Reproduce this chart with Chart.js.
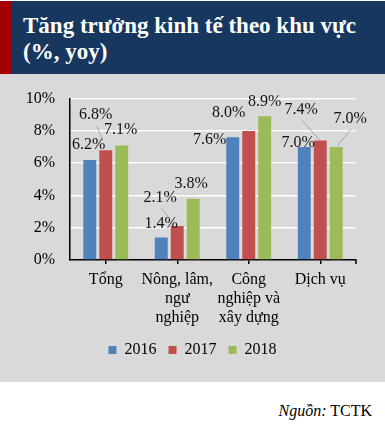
<!DOCTYPE html>
<html>
<head>
<meta charset="utf-8">
<script src="https://cdn.jsdelivr.net/npm/chart.js@4.4.0/dist/chart.umd.min.js"></script>
<style>
body{margin:0;width:385px;height:425px;background:#fff;position:relative;overflow:hidden;font-family:"Liberation Serif",serif}
#head{position:absolute;left:0;top:1px;width:385px;height:73px;background:#17375e}
#strip{position:absolute;left:0;top:0;width:12px;height:73px;background:#a50000}
#title{position:absolute;left:23px;top:12px;color:#fff;font-weight:bold;font-size:23px;line-height:26px}
#panel{position:absolute;left:0;top:74px;width:385px;height:308px;background:#d9d9d9}
#src{position:absolute;right:13px;top:402px;font-size:16px;color:#000}
</style>
</head>
<body>
<div id="head"><div id="strip"></div><div id="title">Tăng trưởng kinh tế theo khu vực<br>(%, yoy)</div></div>
<div id="panel"><canvas id="bars" width="385" height="308"></canvas></div>
<div id="src"><i>Nguồn:</i> TCTK</div>
<script>
var categories=[["Tổng"],["Nông, lâm,","ngư","nghiệp"],["Công","nghiệp và","xây dựng"],["Dịch vụ"]];
var years=["2016","2017","2018"];
var values2016=[6.2,1.4,7.6,7.0];
var values2017=[6.8,2.1,8.0,7.4];
var values2018=[7.1,3.8,8.9,7.0];
var yTicks=[0,2,4,6,8,10];
var colors=["#4f81bd","#c0504d","#9bbb59"];

// where each value label sits relative to the bar top: [dx, dy, leader line or null]
var labelPos=[
    [[-1,-15],[0,-14],[-23,2],[-6,-4]],
    [[-10,-35,[-9,-24,-3,-10]],[-17,-28,[-16,-18,-7,-7]],[-20,-18],[-19,-31,[-19,-21,-1,-1]]],
    [[-1,-16],[-2,-15],[0,-15],[14,-28,[15,-18,1,-1]]]
];

var valueLabels={
    id:"valueLabels",
    afterDatasetsDraw:function(chart){
        var c=chart.ctx;
        c.save();
        c.font="16px 'Liberation Serif', serif";
        c.textAlign="center";
        c.textBaseline="middle";
        chart.data.datasets.forEach(function(ds,i){
            chart.getDatasetMeta(i).data.forEach(function(bar,j){
                var p=labelPos[i][j];
                if(p[2]){
                    c.strokeStyle="#a6a6a6";
                    c.lineWidth=1;
                    c.beginPath();
                    c.moveTo(bar.x+p[2][0],bar.y+p[2][1]);
                    c.lineTo(bar.x+p[2][2],bar.y+p[2][3]);
                    c.stroke();
                }
                c.fillStyle="#111";
                c.fillText(ds.data[j].toFixed(1)+"%",bar.x+p[0],bar.y+p[1]);
            });
        });
        // closing tick at the right end of the x axis
        var a=chart.chartArea;
        c.strokeStyle="#000";
        c.lineWidth=1.5;
        c.beginPath();
        c.moveTo(a.right,a.bottom);
        c.lineTo(a.right,a.bottom+4);
        c.stroke();
        c.restore();
    }
};

var font={family:"'Liberation Serif', serif",size:16};

var chart=new Chart(document.getElementById("bars"),{
    type:"bar",
    data:{
        labels:categories,
        datasets:[
            {label:years[0],data:values2016,backgroundColor:colors[0]},
            {label:years[1],data:values2017,backgroundColor:colors[1]},
            {label:years[2],data:values2018,backgroundColor:colors[2]}
        ]
    },
    options:{
        responsive:false,
        devicePixelRatio:1,
        animation:false,
        categoryPercentage:0.67,
        barPercentage:0.81,
        layout:{padding:{left:0,right:0,top:19,bottom:14}},
        plugins:{
            tooltip:{enabled:false},
            legend:{
                position:"bottom",
                labels:{boxWidth:8,boxHeight:8,padding:12,color:"#000",font:font}
            }
        },
        scales:{
            x:{
                grid:{offset:false,drawOnChartArea:false,drawTicks:true,tickLength:4,color:"#000",lineWidth:1.5},
                border:{display:true,color:"#000",width:1.5},
                ticks:{color:"#000",font:font,padding:6,maxRotation:0,autoSkip:false},
                afterFit:function(s){s.height=70;}
            },
            y:{
                min:0,max:10,
                afterBuildTicks:function(s){s.ticks=yTicks.map(function(v){return {value:v};});},
                grid:{drawTicks:false,lineWidth:1.5,color:function(ctx){return ctx.tick&&ctx.tick.value===0?"rgba(0,0,0,0)":"#fff";}},
                border:{display:true,color:"#000",width:1.5},
                ticks:{color:"#000",font:font,padding:15,callback:function(v){return v+"%";}},
                afterFit:function(s){s.width=70;}
            },
            y2:{
                position:"right",
                grid:{display:false},
                border:{display:false},
                ticks:{display:false},
                afterFit:function(s){s.width=29;}
            }
        }
    },
    plugins:[valueLabels]
});
</script>
</body>
</html>
